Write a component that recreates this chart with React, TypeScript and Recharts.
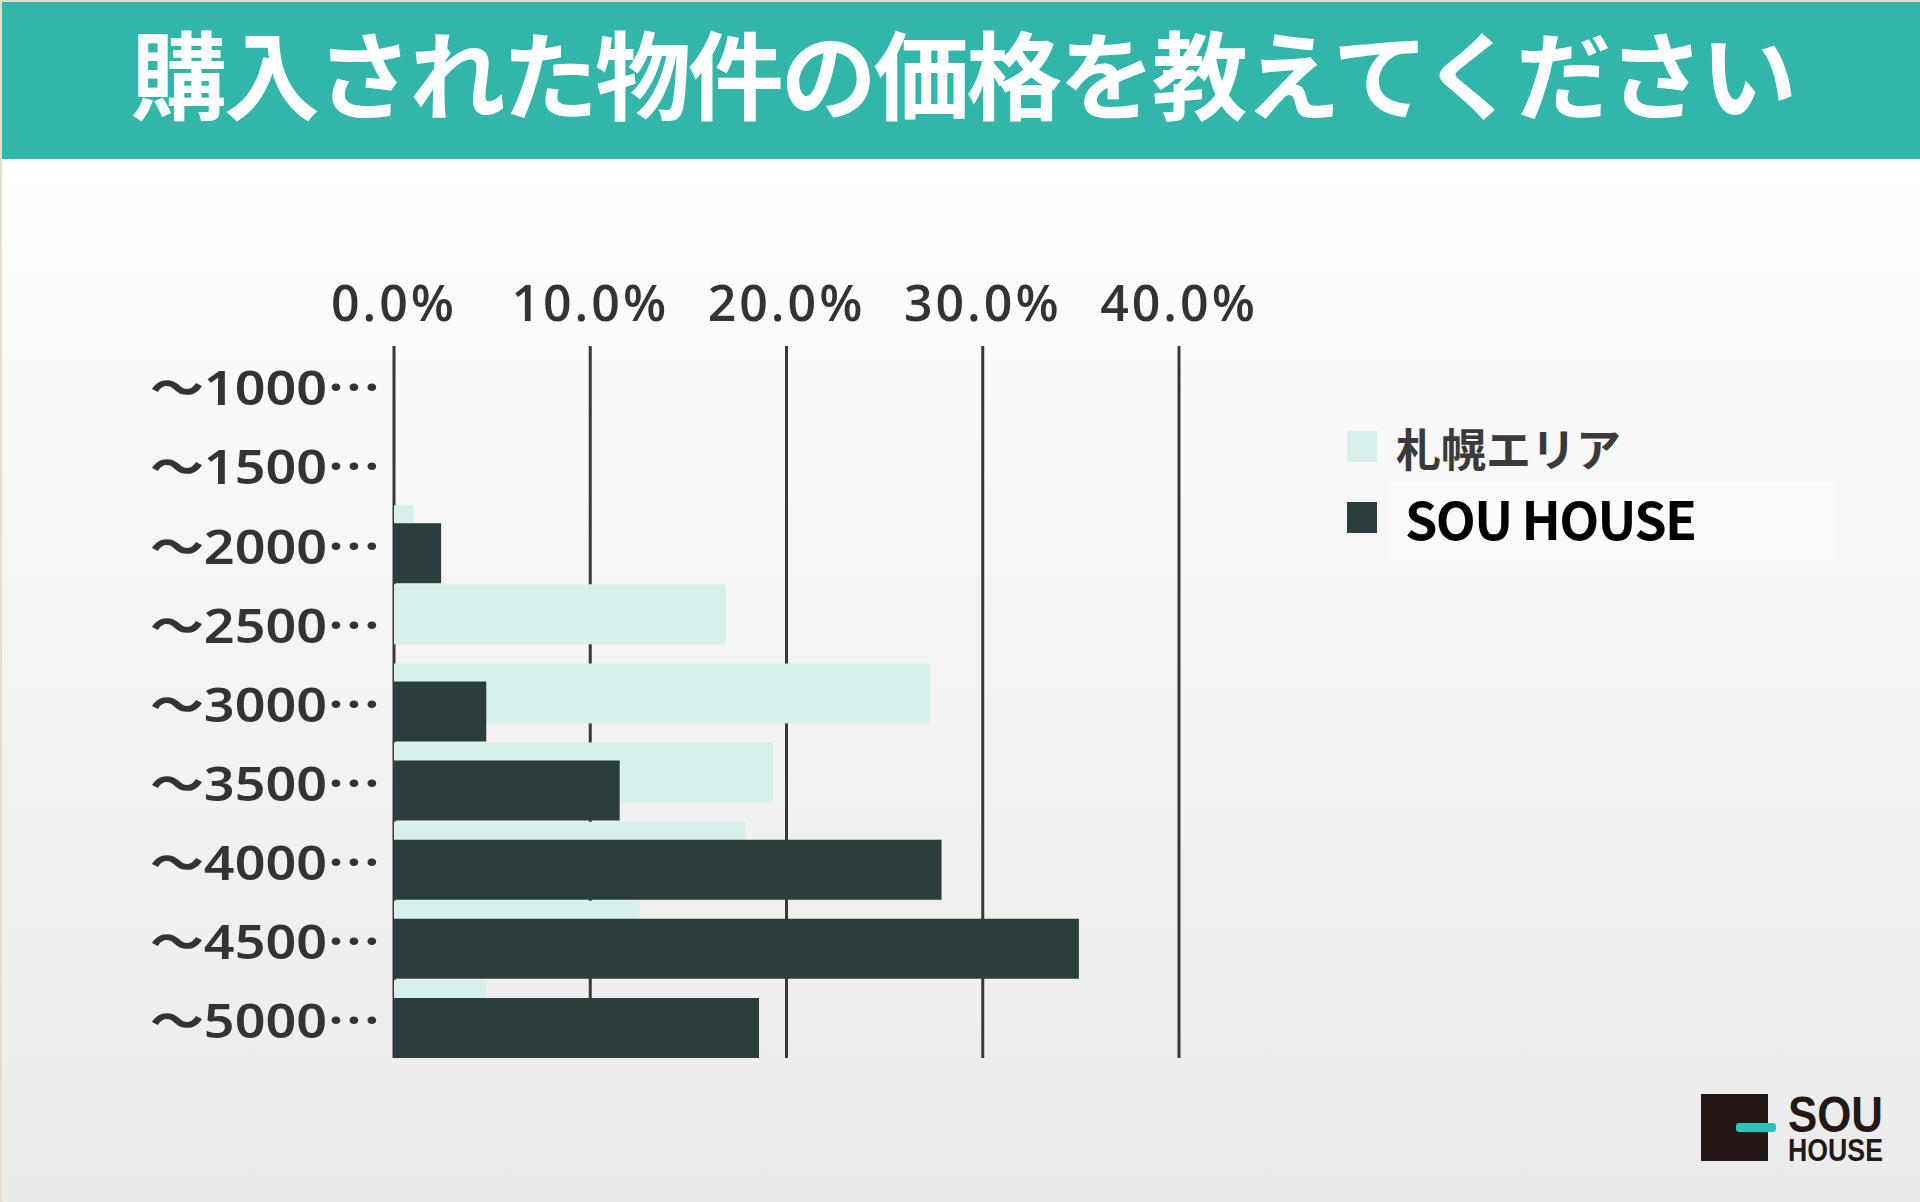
import { BarChart, Bar, XAxis, YAxis, CartesianGrid } from 'recharts';

const title = '購入された物件の価格を教えてください';

const priceRanges = [
  '～1000⋯',
  '～1500⋯',
  '～2000⋯',
  '～2500⋯',
  '～3000⋯',
  '～3500⋯',
  '～4000⋯',
  '～4500⋯',
  '～5000⋯',
];

// percent of respondents
const sapporoArea = [0, 0, 1.0, 16.9, 27.3, 19.3, 17.9, 12.5, 4.7];
const souHouse = [0, 0, 2.4, 0, 4.7, 11.5, 27.9, 34.9, 18.6];

const percentTicks = [0, 10, 20, 30, 40];

const seriesNames = ['札幌エリア', 'SOU HOUSE'];
const LIGHT = '#d6f0ec';
const DARK = '#2a3e3d';

const data = priceRanges.map((range, i) => ({
  range,
  sapporo: sapporoArea[i],
  sou: souHouse[i],
}));

// labels in the original are drawn in a wide gothic, so stretch them to width
function RangeTick(props: any) {
  const { x, y, payload } = props;
  return (
    <text
      x={x}
      y={y}
      dy="0.42em"
      textAnchor="end"
      fill="#333"
      fontSize={47}
      fontWeight={600}
      fontFamily="'Noto Sans', 'Noto Sans CJK JP', sans-serif"
      textLength={231}
      lengthAdjust="spacingAndGlyphs"
    >
      {payload.value}
    </text>
  );
}

export default function App() {
  return (
    <div
      style={{
        position: 'absolute',
        left: 0,
        top: 0,
        width: 1920,
        height: 1202,
        overflow: 'hidden',
        background: 'linear-gradient(to bottom, #ffffff 160px, #f5f5f5 600px, #ebebeb 1202px)',
      }}
    >
      <svg width={1920} height={1202} style={{ position: 'absolute', left: 0, top: 0 }}>
        <rect x={0} y={0} width={1920} height={2} fill="#e6dccf" />
        <rect x={0} y={0} width={2} height={1202} fill="#e6dccf" />
        <rect x={2} y={2} width={1918} height={157} fill="#33b6aa" />
        <text
          x={131}
          y={112}
          fill="#ffffff"
          fontSize={96}
          fontWeight={700}
          fontFamily="'Noto Sans CJK JP', sans-serif"
          textLength={1666}
          lengthAdjust="spacing"
        >
          {title}
        </text>
      </svg>

      <div style={{ position: 'absolute', left: 0, top: 0 }}>
        <BarChart
          width={1920}
          height={1202}
          data={data}
          layout="vertical"
          margin={{ top: 286, right: 741, bottom: 144, left: 144 }}
          barCategoryGap={0}
          barGap={-42}
        >
          <CartesianGrid horizontal={false} stroke="#383838" strokeWidth={3} />
          <XAxis
            type="number"
            orientation="top"
            domain={[0, 40]}
            ticks={percentTicks}
            height={60}
            axisLine={false}
            tickLine={false}
            tickSize={0}
            tickMargin={25}
            tickFormatter={(v: number) => v.toFixed(1) + '%'}
            tick={{
              fill: '#333',
              fontSize: 50,
              fontWeight: 600,
              letterSpacing: 3,
              fontFamily: "'Open Sans', sans-serif",
            }}
          />
          <YAxis
            type="category"
            dataKey="range"
            width={250}
            axisLine={false}
            tickLine={false}
            tickSize={0}
            tickMargin={13}
            interval={0}
            tick={<RangeTick />}
          />
          <Bar dataKey="sapporo" name={seriesNames[0]} fill={LIGHT} barSize={60} isAnimationActive={false} />
          <Bar dataKey="sou" name={seriesNames[1]} fill={DARK} barSize={60} isAnimationActive={false} />
        </BarChart>
      </div>

      <svg width={1920} height={1202} style={{ position: 'absolute', left: 0, top: 0, pointerEvents: 'none' }}>
        {/* legend */}
        <rect x={1387} y={481} width={450} height={80} fill="#ffffff" fillOpacity={0.55} />
        <rect x={1347} y={431} width={30} height={31} fill={LIGHT} />
        <text
          x={1396}
          y={467}
          fill="#3a3a3a"
          fontSize={45}
          fontWeight={700}
          fontFamily="'Noto Sans CJK JP', sans-serif"
          textLength={225}
          lengthAdjust="spacing"
        >
          {seriesNames[0]}
        </text>
        <rect x={1347} y={502} width={30} height={31} fill={DARK} />
        <text
          x={1405}
          y={540}
          fill="#000"
          fontSize={52}
          fontWeight={700}
          fontFamily="'Noto Sans CJK JP', sans-serif"
          textLength={292}
          lengthAdjust="spacing"
        >
          {seriesNames[1]}
        </text>

        {/* logo */}
        <rect x={1701} y={1094} width={67} height={67} fill="#231815" />
        <rect x={1736} y={1123} width={40} height={9} rx={3} fill="#2cc5b5" />
        <text
          x={1788}
          y={1132}
          fill="#231815"
          fontSize={50}
          fontWeight={700}
          fontFamily="'Liberation Sans Narrow', 'Liberation Sans', sans-serif"
          textLength={95}
          lengthAdjust="spacingAndGlyphs"
        >
          SOU
        </text>
        <text
          x={1788}
          y={1161}
          fill="#231815"
          fontSize={31}
          fontWeight={700}
          fontFamily="'Liberation Sans Narrow', 'Liberation Sans', sans-serif"
          textLength={95}
          lengthAdjust="spacingAndGlyphs"
        >
          HOUSE
        </text>
      </svg>
    </div>
  );
}
